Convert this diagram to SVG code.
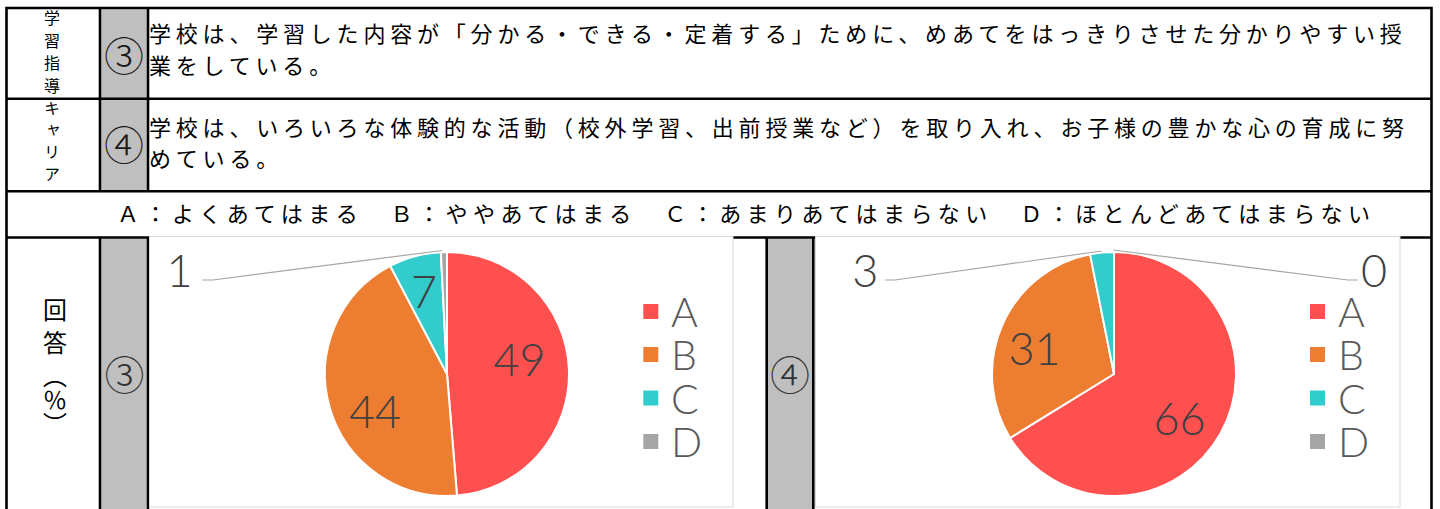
<svg xmlns="http://www.w3.org/2000/svg" width="1440" height="509" viewBox="0 0 1440 509">
<style>
.jp{font-family:"Noto Sans CJK JP","Noto Sans CJK SC",sans-serif;fill:#000}
.row{font-size:22px;letter-spacing:4.8px}
.vt{font-size:16px;writing-mode:vertical-rl}
.circ{font-family:"Noto Sans CJK JP","Noto Sans CJK SC",sans-serif;font-weight:300;font-size:40px;text-anchor:middle;dominant-baseline:central;fill:#1a1a1a}
.grid{stroke:#000;stroke-width:2.6;fill:none}
.gray{fill:#BFBFBF}
.chart{fill:#fff;stroke:#D9D9D9;stroke-width:1}
.sl{stroke:#fff;stroke-width:2;stroke-linejoin:round}
.num{font-family:Lato,"Liberation Sans",sans-serif;font-weight:300;font-size:45px;fill:#404040;text-anchor:middle}
.leg{font-family:Lato,"Liberation Sans",sans-serif;font-weight:300;font-size:41px;fill:#595959}
.lead{stroke:#A6A6A6;stroke-width:1.2;fill:none}
.cA{fill:#FF5050}.cB{fill:#ED7D31}.cC{fill:#33CCCC}.cD{fill:#A5A5A5}
</style>
<rect width="1440" height="509" fill="#fff"/>
<g id="table">
<rect class="gray" x="101.3" y="9.3" width="45.4" height="89"/>
<rect class="gray" x="101.3" y="100" width="45.4" height="90"/>
<rect class="gray" x="101.3" y="238.8" width="45.4" height="272"/>
<rect class="gray" x="768" y="238.8" width="44" height="272"/>
<path class="grid" d="M6.5,8 H1431.5 M6.5,98.7 H1431.5 M6.5,191.3 H1431.5 M6.5,237.5 H1431.5 M6.5,6.7 V512 M1431.5,6.7 V512 M100,8 V191.3 M148,8 V191.3 M100,237.5 V512 M148,237.5 V512 M766.7,237.5 V512 M813.3,237.5 V512"/>
</g>
<g id="row1">
<text class="jp vt" x="52" y="10" style="letter-spacing:6.5px">学習指導</text>
<text class="circ" x="124" y="54">③</text>
<text class="jp row" x="149" y="42">学校は、学習した内容が「分かる・できる・定着する」ために、めあてをはっきりさせた分かりやすい授</text>
<text class="jp row" x="149" y="74">業をしている。</text>
</g>
<g id="row2">
<text class="jp vt" x="52" y="100" style="letter-spacing:6px">キャリア</text>
<text class="circ" x="124" y="143">④</text>
<text class="jp row" x="149" y="136">学校は、いろいろな体験的な活動（校外学習、出前授業など）を取り入れ、お子様の豊かな心の育成に努</text>
<text class="jp row" x="149" y="167">めている。</text>
</g>
<g id="legend-row">
<text class="jp" x="117" y="222" style="font-size:22px;letter-spacing:5.45px">Ａ：よくあてはまる　Ｂ：ややあてはまる　Ｃ：あまりあてはまらない　Ｄ：ほとんどあてはまらない</text>
</g>
<g id="row4-label">
<text class="jp" x="55" y="298" style="font-size:24px;writing-mode:vertical-rl;letter-spacing:9px">回答<tspan style="letter-spacing:0">（％）</tspan></text>
<text class="circ" x="124.5" y="372.5" style="fill:#333">③</text>
<text class="circ" x="790" y="373" style="fill:#333">④</text>
</g>
<g id="chart1">
<rect class="chart" x="149.5" y="236.5" width="583.5" height="270.5"/>
<path class="cA sl" d="M447,374 L447,252 A122,122 0 0 1 457,495.59 Z"/>
<path class="cB sl" d="M447,374 L457,495.59 A122,122 0 0 1 390.29,265.98 Z"/>
<path class="cC sl" d="M447,374 L390.29,265.98 A122,122 0 0 1 440.83,252.16 Z"/>
<path class="cD sl" d="M447,374 L440.83,252.16 A122,122 0 0 1 447,252 Z"/>
<text class="num" x="519.5" y="375.5">49</text>
<text class="num" x="375" y="428">44</text>
<text class="num" x="424" y="308">7</text>
<text class="num" x="179.5" y="287">1</text>
<rect class="cA" x="643.3" y="304" width="15" height="15"/>
<rect class="cB" x="643.3" y="347" width="15" height="15"/>
<rect class="cC" x="643.3" y="390.5" width="15" height="15"/>
<rect class="cD" x="643.3" y="434" width="15" height="15"/>
<text class="leg" x="671" y="326.5">A</text>
<text class="leg" x="671" y="370">B</text>
<text class="leg" x="671" y="413.5">C</text>
<text class="leg" x="671" y="457">D</text>
</g>
<g id="chart2">
<rect class="chart" x="815.5" y="236.5" width="584.5" height="270.5"/>
<path class="cA sl" d="M1114,374 L1114,252 A122,122 0 1 1 1010.09,437.93 Z"/>
<path class="cB sl" d="M1114,374 L1010.09,437.93 A122,122 0 0 1 1090.09,254.37 Z"/>
<path class="cC sl" d="M1114,374 L1090.09,254.37 A122,122 0 0 1 1114,252 Z"/>
<text class="num" x="1034.5" y="365">31</text>
<text class="num" x="1179.5" y="435">66</text>
<text class="num" x="865.3" y="286.7">3</text>
<text class="num" x="1374" y="286.7">0</text>
<rect class="cA" x="1310" y="304" width="15" height="15"/>
<rect class="cB" x="1310" y="347" width="15" height="15"/>
<rect class="cC" x="1310" y="390.5" width="15" height="15"/>
<rect class="cD" x="1310" y="434" width="15" height="15"/>
<text class="leg" x="1338" y="326.5">A</text>
<text class="leg" x="1338" y="370">B</text>
<text class="leg" x="1338" y="413.5">C</text>
<text class="leg" x="1338" y="457">D</text>
</g>
<g id="connectors">
<polyline class="lead" points="202,280 213,280 442,250.5"/>
<polyline class="lead" points="885,280 895,280 1101.5,251"/>
<polyline class="lead" points="1113.3,250 1348,280 1358,280"/>
</g>
</svg>
